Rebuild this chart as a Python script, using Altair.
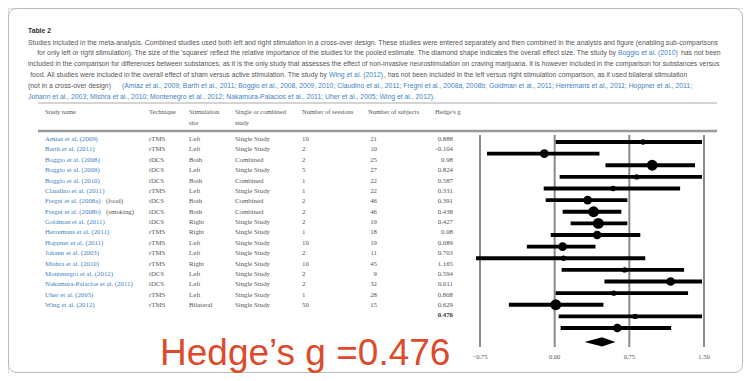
import altair as alt
import pandas as pd

# ---------------- data ----------------
studies = ["Amiaz et al. (2009)", "Barth et al. (2011)", "Boggio et al. (2008)",
           "Boggio et al. (2009)", "Boggio et al. (2010)", "Claudino et al. (2011)",
           "Fregni et al. (2008a)", "Fregni et al. (2008b)", "Goldman et al. (2011)",
           "Herremans et al. (2011)", "Hoppner et al. (2011)", "Johann et al. (2003)",
           "Mishra et al. (2010)", "Montenegro et al. (2012)",
           "Nakamura-Palacios et al. (2011)", "Uher et al. (2005)", "Wing et al. (2012)"]
suffix = ["", "", "", "", "", "", "(food)", "(smoking)", "", "", "", "", "", "", "", "", ""]
technique = ["rTMS", "rTMS", "tDCS", "tDCS", "tDCS", "rTMS", "tDCS", "tDCS", "tDCS",
             "rTMS", "rTMS", "rTMS", "rTMS", "tDCS", "tDCS", "rTMS", "rTMS"]
site = ["Left", "Left", "Both", "Left", "Both", "Left", "Both", "Both", "Right",
        "Right", "Left", "Left", "Right", "Left", "Left", "Left", "Bilateral"]
design = ["Single Study", "Single Study", "Combined", "Single Study", "Combined",
          "Single Study", "Combined", "Combined", "Single Study", "Single Study",
          "Single Study", "Single Study", "Single Study", "Single Study",
          "Single Study", "Single Study", "Single Study"]
sessions = [10, 2, 2, 5, 1, 1, 2, 2, 2, 1, 10, 2, 10, 2, 2, 1, 50]
subjects = [21, 10, 25, 27, 22, 22, 46, 46, 19, 18, 19, 11, 45, 9, 32, 28, 15]
hedges_g = [0.888, -0.104, 0.98, 0.824, 0.587, 0.331, 0.391, 0.438, 0.427, 0.08,
            0.089, 0.703, 1.165, 0.594, 0.011, 0.808, 0.629]
ci_low = [0.01, -0.68, 0.51, 0.05, -0.11, -0.09, 0.08, 0.16, -0.04, -0.28,
          -0.79, 0.07, 0.50, 0.01, -0.46, 0.04, 0.06]
ci_high = [1.48, 0.45, 1.41, 1.48, 1.26, 0.73, 0.67, 0.73, 0.86, 0.41,
           0.91, 1.30, 1.48, 1.34, 0.49, 1.48, 1.17]
weight = [1, 2, 3, 1, 1, 2, 3, 3, 2, 2, 1, 1, 2, 1, 3, 1, 2]
overall_g = 0.476
overall_lo = 0.30
overall_hi = 0.61
ticks = [-0.75, 0.0, 0.75, 1.50]

caption_title = "Table 2"

# ---------------- styles ----------------
SANS = "Liberation Sans"
SERIF = "Liberation Serif"
GRAY = "#555555"
BLUE = "#3f7fc6"
CS = 6.85  # caption font size

n = len(studies)
df = pd.DataFrame({
    "row": list(range(n)), "study": studies, "suffix": suffix, "tech": technique,
    "site": site, "design": design, "sessions": sessions, "subjects": subjects,
    "g": hedges_g, "gtxt": [str(v) for v in hedges_g], "lo": ci_low, "hi": ci_high,
    "w": weight,
})

tableY = alt.Scale(domain=[0, n - 1], range=[131, 297], nice=False, zero=False)
forestY = alt.Scale(domain=[0, n - 1], range=[134, 320], nice=False, zero=False)
forestX = alt.Scale(domain=[-0.75, 1.5], range=[472, 696], nice=False, zero=False)


def label(text, x, y, size=CS, color=GRAY, align="left", font=SANS, weight="normal",
          baseline="middle"):
    return alt.Chart(pd.DataFrame({"t": [text]})).mark_text(
        align=align, baseline=baseline, fontSize=size, color=color, font=font,
        fontWeight=weight,
    ).encode(x=alt.value(x), y=alt.value(y), text="t:N")


layers = []

# frame
layers.append(alt.Chart(pd.DataFrame({"a": [0]})).mark_rect(
    fill=None, stroke="#bbbbbb", strokeWidth=1, cornerRadius=8
).encode(x=alt.value(0.5), x2=alt.value(734.5), y=alt.value(0.5), y2=alt.value(364.5)))

# caption
layers.append(label(caption_title, 20, 23, size=6.8, color="#333333", weight="bold"))
layers.append(label("Studies included in the meta-analysis. Combined studies used both left and right "
                    "stimulation in a cross-over design. These studies were entered separately and then "
                    "combined in the analysis and figure (enabling sub-comparisons", 20, 35))
layers.append(label("for only left or right stimulation). The size of the 'squares' reflect the relative "
                    "importance of the studies for the pooled estimate. The diamond shape indicates the "
                    "overall effect size. The study by", 608, 45, align="right"))
layers.append(label("Boggio et al. (2010)", 610, 45, color=BLUE))
layers.append(label("has not been", 673, 45))
layers.append(label("included in the comparison for differences between substances, as it is the only "
                    "study that assesses the effect of non-invasive neurostimulation on craving marijuana. "
                    "It is however included in the comparison for substances versus", 20, 56))
layers.append(label("food. All studies were included in the overall effect of sham versus active stimulation. "
                    "The study by", 319, 67, align="right"))
layers.append(label("Wing et al. (2012)", 321, 67, color=BLUE))
layers.append(label(", has not been included in the left versus right stimulation comparison, as it "
                    "used bilateral stimulation", 376, 67))
layers.append(label("(not in a cross-over design)", 20, 78))
layers.append(label("(Amiaz et al., 2009; Barth et al., 2011; Boggio et al., 2008, 2009, 2010; Claudino "
                    "et al., 2011; Fregni et al., 2008a, 2008b; Goldman et al., 2011; Herremans et al., "
                    "2011; Hoppner et al., 2011;", 114, 78, color=BLUE))
layers.append(label("Johann et al., 2003; Mishra et al., 2010; Montenegro et al., 2012; Nakamura-Palacios "
                    "et al., 2011; Uher et al., 2005; Wing et al., 2012).", 20, 89, color=BLUE))

# table rules
layers.append(alt.Chart(pd.DataFrame({"a": [0]})).mark_rule(color="#aaaaaa", strokeWidth=1.2).encode(
    x=alt.value(30), x2=alt.value(709), y=alt.value(95)))
layers.append(alt.Chart(pd.DataFrame({"a": [0]})).mark_rule(color="#999999", strokeWidth=2.4).encode(
    x=alt.value(30), x2=alt.value(709), y=alt.value(123)))

# headers
HS = 6.5
for txt, x, y in [("Study name", 37, 104), ("Technique", 141, 104), ("Stimulation", 181, 104),
                  ("site", 181, 115), ("Single or combined", 227, 104), ("study", 227, 115),
                  ("Number of sessions", 294, 104), ("Number of subjects", 360, 104),
                  ("Hedge's g", 427, 104)]:
    layers.append(label(txt, x, y, size=HS, font=SERIF))

# table body
base = alt.Chart(df)
TS = 6.8


def col(field, x, color=GRAY, align="left"):
    return base.mark_text(align=align, baseline="middle", fontSize=TS, font=SERIF, color=color).encode(
        x=alt.value(x), y=alt.Y("row:Q", scale=tableY, axis=None), text=f"{field}:N")


layers.append(col("study", 37, BLUE))
layers.append(col("suffix", 98))
layers.append(col("tech", 141))
layers.append(col("site", 181))
layers.append(col("design", 227))
layers.append(col("sessions", 294))
layers.append(col("subjects", 369, align="right"))
layers.append(col("gtxt", 445, align="right"))
layers.append(alt.Chart(pd.DataFrame({"row": [n], "t": [f"{overall_g:.3f}"]})).mark_text(
    align="right", baseline="middle", fontSize=TS, font=SERIF, fontWeight="bold", color="#333333"
).encode(x=alt.value(445), y=alt.Y("row:Q", scale=tableY, axis=None), text="t:N"))

# forest: gridlines
tdf = pd.DataFrame({"tick": ticks})
layers.append(alt.Chart(tdf).mark_rule(color="#8a8a8a", strokeWidth=2).encode(
    x=alt.X("tick:Q", scale=forestX, axis=None), y=alt.value(127), y2=alt.value(339)))
layers.append(alt.Chart(tdf).mark_text(fontSize=6.5, font=SERIF, color=GRAY, baseline="middle").encode(
    x=alt.X("tick:Q", scale=forestX, axis=None), y=alt.value(349),
    text=alt.Text("tick:Q", format=".2f")))

# forest: CIs and points
layers.append(base.mark_rule(color="black", strokeWidth=3.8).encode(
    x=alt.X("lo:Q", scale=forestX, axis=None), x2="hi:Q",
    y=alt.Y("row:Q", scale=forestY, axis=None)))
layers.append(base.mark_circle(color="black", opacity=1).encode(
    x=alt.X("g:Q", scale=forestX, axis=None),
    y=alt.Y("row:Q", scale=forestY, axis=None),
    size=alt.Size("w:Q", scale=alt.Scale(domain=[1, 3], range=[30, 120]), legend=None)))

# forest: diamond
drow = n + 0.2
ddf = pd.DataFrame({"x": [overall_lo, overall_g, overall_hi],
                    "y1": [drow, drow - 0.4, drow], "y2": [drow, drow + 0.4, drow]})
layers.append(alt.Chart(ddf).mark_area(color="black", opacity=1).encode(
    x=alt.X("x:Q", scale=forestX, axis=None),
    y=alt.Y("y1:Q", scale=forestY, axis=None), y2="y2:Q"))

# big red annotation
layers.append(label("Hedge\u2019s g =0.476", 152, 357, size=37, color="#dc4b2c", font=SANS,
                    baseline="alphabetic"))

chart = alt.layer(*layers).resolve_scale(x="independent", y="independent", size="independent").properties(
    width=735, height=365, padding=0, autosize=alt.AutoSizeParams(type="none")
).configure_view(stroke=None).configure(background="white")

chart.save("out.html", embed_options={"renderer": "svg", "actions": False})
